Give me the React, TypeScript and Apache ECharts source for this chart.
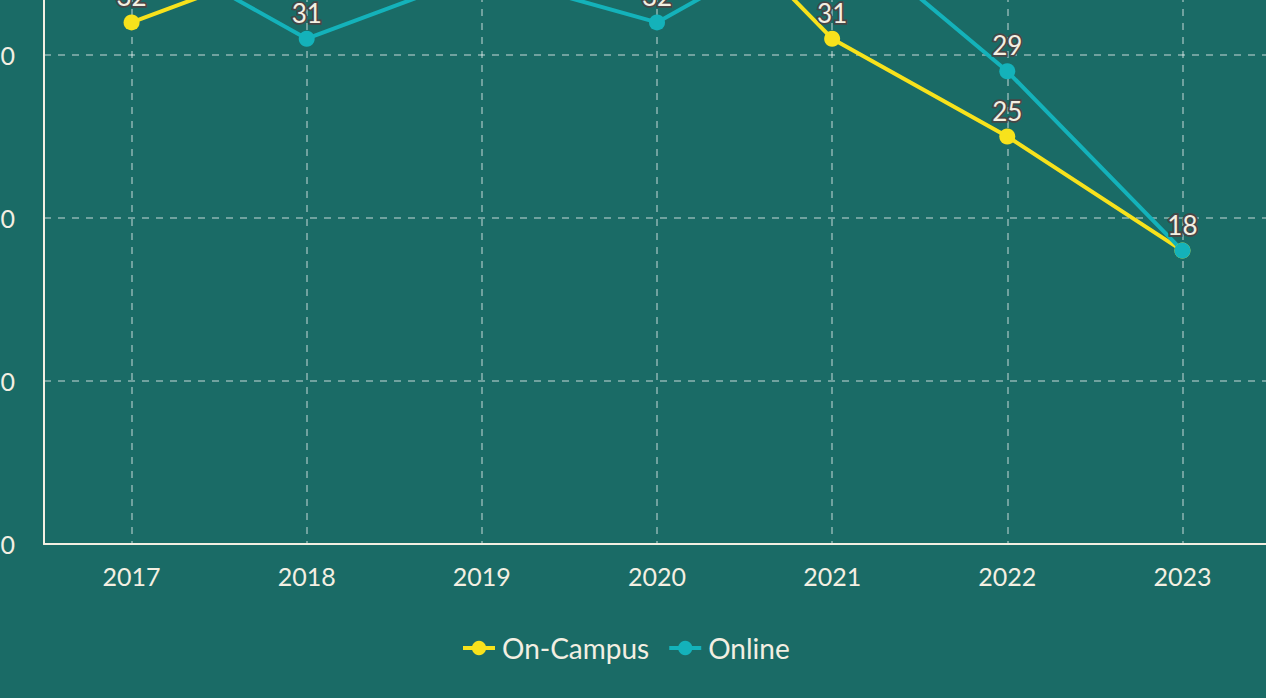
import React, { useEffect, useRef } from "react";
import * as echarts from "echarts";

const years = ["2017", "2018", "2019", "2020", "2021", "2022", "2023"];
const onCampus = [32, 36, 39, 42, 31, 25, 18];
const online = [37, 31, 35, 32, 38, 29, 18];
const seriesNames = ["On-Campus", "Online"];

const BG = "#1a6b66";
const TEXT = "#f3efe2";
const YELLOW = "#f7e21c";
const TEAL = "#14b2ba";
const FONT = "Lato, 'Open Sans', sans-serif";

export default function App() {
  const ref = useRef<HTMLDivElement>(null);
  useEffect(() => {
    if (!ref.current) return;
    const chart = echarts.init(ref.current, undefined, { renderer: "svg" });
    const label = {
      show: true,
      position: "top" as const,
      distance: 5,
      color: TEXT,
      fontSize: 26,
      fontFamily: FONT,
      textBorderColor: "#474747",
      textBorderWidth: 3.5,
    };
    chart.setOption({
      animation: false,
      backgroundColor: BG,
      textStyle: { fontFamily: FONT },
      grid: { left: 144, right: 30, top: 129, bottom: 154, containLabel: false },
      legend: {
        data: seriesNames,
        left: 556,
        top: 1029,
        itemWidth: 32,
        itemHeight: 18,
        itemGap: 18,
        lineStyle: { width: 4 },
        textStyle: {
          color: TEXT,
          fontSize: 28,
          fontFamily: FONT,
          padding: [0, 0, 0, 2],
        },
      },
      xAxis: {
        type: "category",
        data: years,
        boundaryGap: true,
        axisLine: { show: true, lineStyle: { color: TEXT, width: 2 } },
        axisTick: { show: false, alignWithLabel: true },
        axisLabel: { color: TEXT, fontSize: 25, fontFamily: FONT, margin: 19 },
        splitLine: {
          show: true,
          alignWithLabel: true,
          lineStyle: { color: "rgba(255,255,255,0.5)", type: [7, 7], width: 1.5 },
        },
      },
      yAxis: {
        type: "value",
        min: 0,
        max: 50,
        interval: 10,
        axisLine: { show: true, lineStyle: { color: TEXT, width: 2 } },
        axisTick: { show: false },
        axisLabel: { color: TEXT, fontSize: 25, fontFamily: FONT, margin: 29 },
        splitLine: {
          show: true,
          lineStyle: { color: "rgba(255,255,255,0.5)", type: [7, 7], width: 1.5 },
        },
      },
      series: [
        {
          name: seriesNames[0],
          type: "line",
          data: onCampus,
          symbol: "circle",
          symbolSize: 16,
          lineStyle: { color: YELLOW, width: 4 },
          itemStyle: { color: YELLOW },
          label,
        },
        {
          name: seriesNames[1],
          type: "line",
          data: online,
          symbol: "circle",
          symbolSize: 16,
          lineStyle: { color: TEAL, width: 4 },
          itemStyle: { color: TEAL },
          label,
        },
      ],
    });
    return () => chart.dispose();
  }, []);
  return (
    <div
      style={{
        position: "fixed",
        left: 0,
        top: 0,
        width: 1266,
        height: 698,
        overflow: "hidden",
        background: BG,
      }}
    >
      <div
        ref={ref}
        style={{ position: "absolute", left: -100, top: -400, width: 1400, height: 1098 }}
      />
    </div>
  );
}
